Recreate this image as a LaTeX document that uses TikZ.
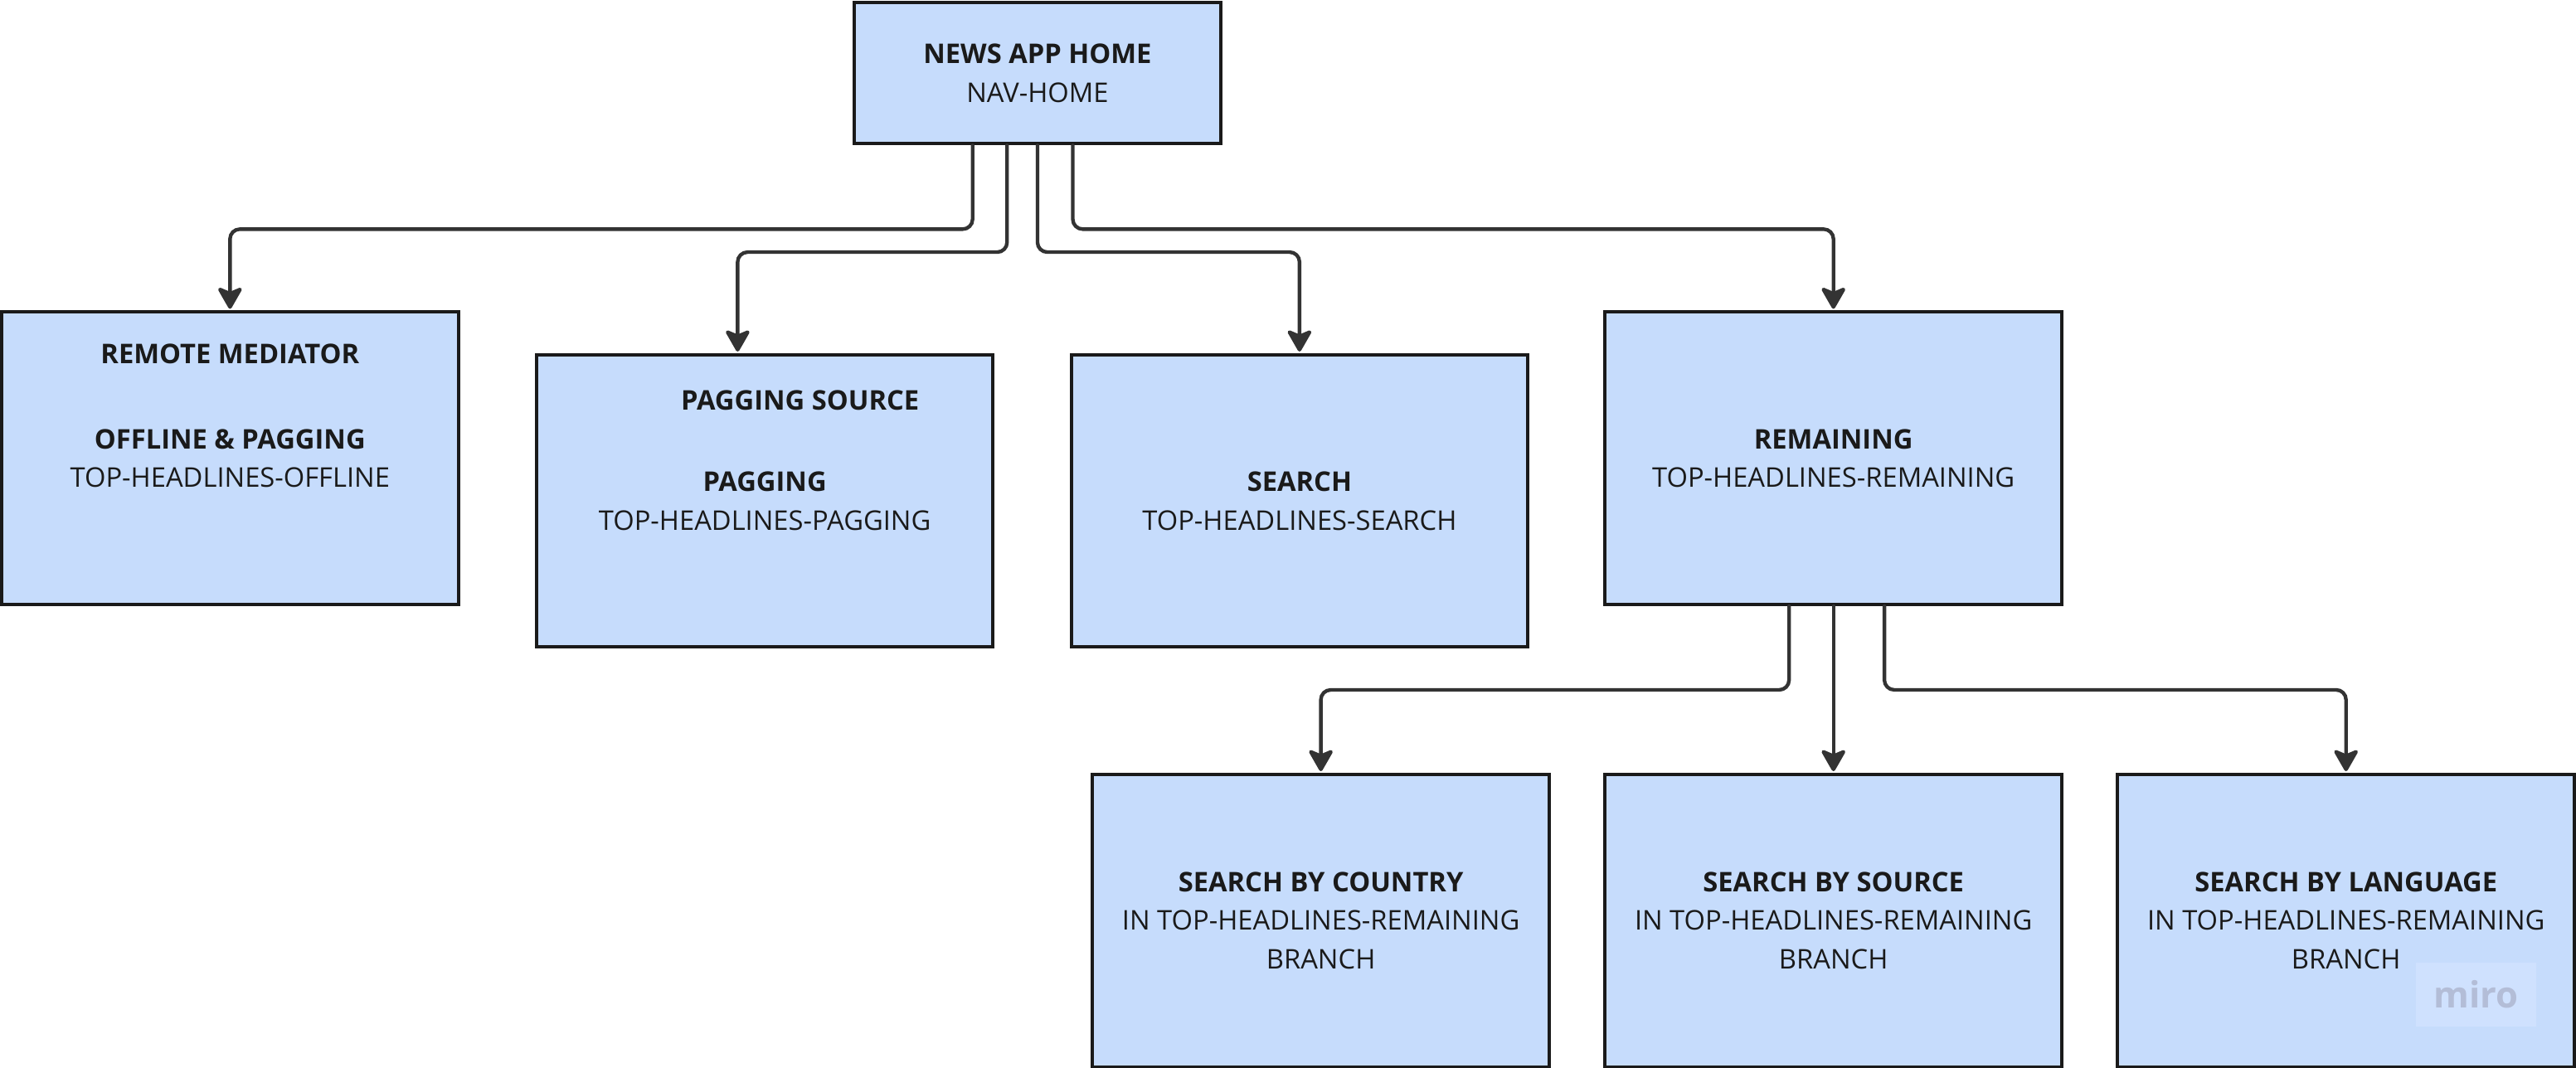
\documentclass[tikz,border=0pt]{standalone}
\usepackage{fontspec}
\setmainfont{Open Sans}
\usepackage{tikz}
\usetikzlibrary{arrows.meta}
\definecolor{boxfill}{HTML}{C6DCFC}
\definecolor{boxline}{HTML}{1A1A1A}
\definecolor{linkcol}{HTML}{333333}
\definecolor{mirobg}{HTML}{CFE1FE}
\definecolor{mirotxt}{HTML}{B3BDD7}

\begin{document}
\begin{tikzpicture}[x=1pt,y=-1pt,line cap=round,
  box/.style={draw=boxline,line width=2pt,fill=boxfill,minimum width=278pt,
    minimum height=178pt,align=center,inner sep=0pt,text=boxline,
    font=\fontsize{16.5}{23.5}\selectfont},
  head/.style={inner sep=0pt,text=boxline,font=\fontsize{16.5}{23.5}\selectfont\bfseries},
  link/.style={draw=linkcol,line width=2.2pt,rounded corners=6pt,shorten >=1pt,
    -{Stealth[length=15pt,width=17pt,inset=3.5pt,round]}}]
\useasboundingbox (0,0) rectangle (1568,650);
% root
\node[box,minimum width=223pt,minimum height=86pt] (home) at (631.5,44.5)
  {\textbf{NEWS APP HOME}\\NAV-HOME};
% first level
\node[box] (remote) at (140,279) {\textbf{OFFLINE \& PAGGING}\\TOP-HEADLINES-OFFLINE};
\node[head] (remote-h) at (140,215.5) {REMOTE MEDIATOR};
\node[box] (pagsrc) at (465.5,305) {\textbf{PAGGING}\\TOP-HEADLINES-PAGGING};
\node[head] (pagsrc-h) at (487,243.5) {PAGGING SOURCE};
\node[box] (search) at (791,305) {\textbf{SEARCH}\\TOP-HEADLINES-SEARCH};
\node[box] (remain) at (1116,279) {\textbf{REMAINING}\\TOP-HEADLINES-REMAINING};
% second level
\node[box] (country) at (804,560.5)
  {\textbf{SEARCH BY COUNTRY}\\IN TOP-HEADLINES-REMAINING\\BRANCH};
\node[box] (source) at (1116,560.5)
  {\textbf{SEARCH BY SOURCE}\\IN TOP-HEADLINES-REMAINING\\BRANCH};
\node[box] (lang) at (1428,560.5)
  {\textbf{SEARCH BY LANGUAGE}\\IN TOP-HEADLINES-REMAINING\\BRANCH};
% watermark
\node[fill=mirobg,minimum width=73pt,minimum height=39pt,text=mirotxt,
  font=\fontsize{22}{22}\selectfont\bfseries] (miro) at (1507,605.5) {miro};
% links from root
\draw[link] ([xshift=-39.5pt]home.south) -- ++(0,51) -| (remote.north);
\draw[link] ([xshift=-18.5pt]home.south) -- ++(0,65) -| ([xshift=-16.5pt]pagsrc.north);
\draw[link] (home.south) -- ++(0,65) -| (search.north);
\draw[link] ([xshift=21.5pt]home.south) -- ++(0,51) -| (remain.north);
% links from remaining
\draw[link] ([xshift=-27pt]remain.south) -- ++(0,51) -| (country.north);
\draw[link] (remain.south) -- (source.north);
\draw[link] ([xshift=31pt]remain.south) -- ++(0,51) -| (lang.north);
\end{tikzpicture}
\end{document}
